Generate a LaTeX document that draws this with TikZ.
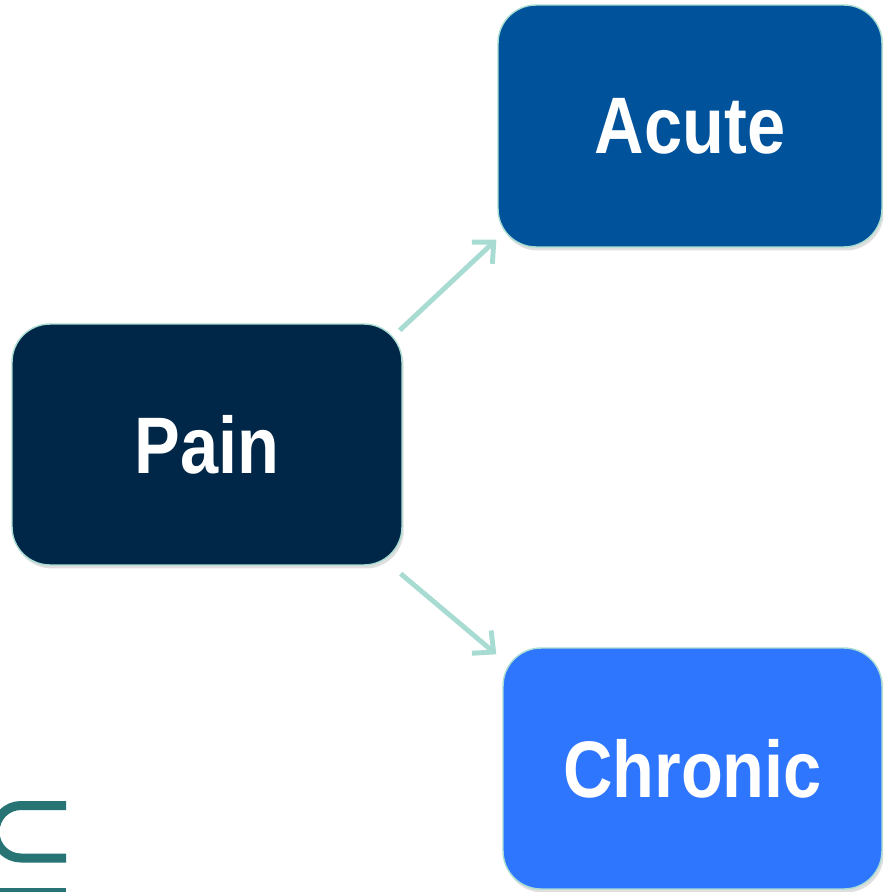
\documentclass[tikz,border=0pt]{standalone}
\usepackage{fontspec}
\setmainfont{Liberation Sans}
\usetikzlibrary{arrows.meta,shadows}

\definecolor{painNavy}{RGB}{0,38,72}
\definecolor{acuteBlue}{RGB}{0,82,155}
\definecolor{chronicBlue}{RGB}{47,118,255}
\definecolor{arrowTeal}{RGB}{168,220,210}
\definecolor{logoTeal}{RGB}{40,115,115}

\newcommand{\boxlabel}[1]{\scalebox{1}[1.17]{\bfseries #1}}

\tikzset{
  painbox/.style={rectangle, rounded corners=0.76cm, draw=arrowTeal, line width=0.8pt,
    text=white, inner sep=0pt, font=\fontsize{39}{39}\selectfont,
    drop shadow={shadow xshift=1pt, shadow yshift=-2pt, opacity=0.25}},
  linkarrow/.style={draw=arrowTeal, line width=2.8pt,
    -{Straight Barb[length=9pt, width=17pt, line width=2.8pt]}}
}

\begin{document}
\begin{tikzpicture}[x=0.02cm, y=-0.02cm]

  % --- 1. 枠 ---
  \useasboundingbox (0,0) rectangle (883,892);
  \clip (0,0) rectangle (883,892);

  % --- 2. 箱 ---
  \node[painbox, fill=painNavy, minimum width=7.8cm, minimum height=4.82cm]
    (pain) at (207,444.5) {\boxlabel{Pain}};
  \node[painbox, fill=acuteBlue, minimum width=7.68cm, minimum height=4.84cm]
    (acute) at (690,126) {\boxlabel{Acute}};
  \node[painbox, fill=chronicBlue, minimum width=7.58cm, minimum height=4.82cm]
    (chronic) at (692.5,768.5) {\boxlabel{Chronic}};

  % --- 3. 矢印 ---
  \draw[linkarrow] ([shift={(-3,7)}]pain.north east) -- ([shift={(-1,-8)}]acute.south west);
  \draw[linkarrow] ([shift={(-2,8)}]pain.south east) -- ([shift={(-6,7)}]chronic.north west);

  % --- 4. 左下のロゴの一部 ---
  \draw[logoTeal, line width=0.18cm]
    (66,805.5) -- (21,805.5) .. controls (6.6,805.5) and (-5,817.2) .. (-5,831.75)
    .. controls (-5,846.3) and (6.6,858) .. (21,858) -- (66,858);
  \fill[logoTeal] (0,888) rectangle (66,892);

\end{tikzpicture}
\end{document}
